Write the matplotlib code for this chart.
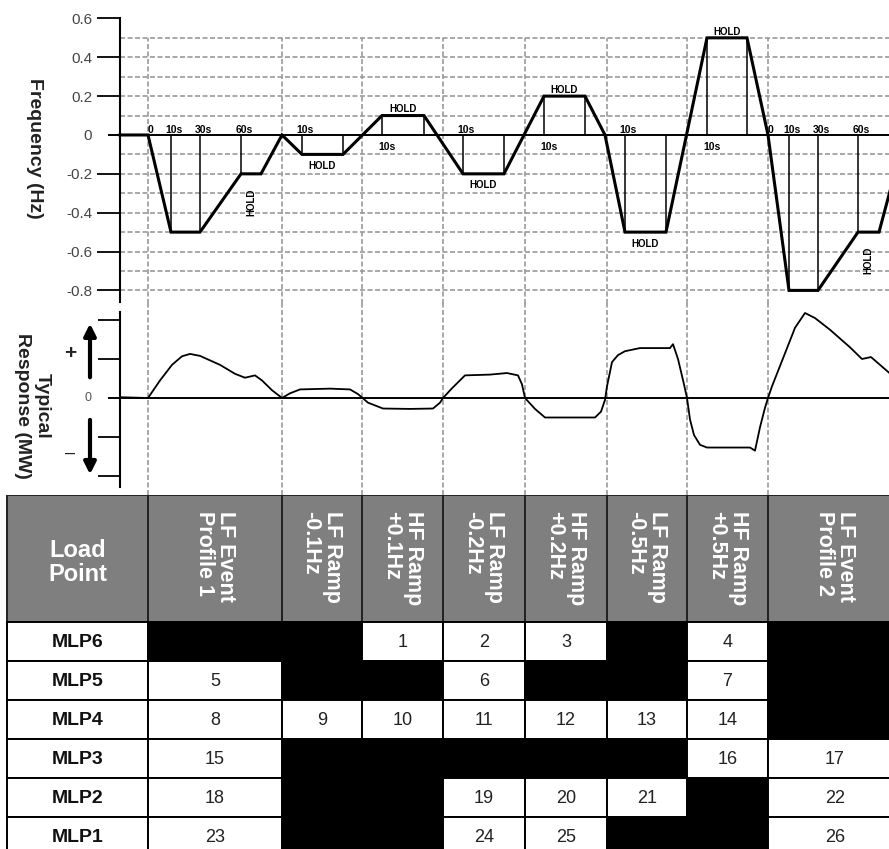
import numpy as np
import matplotlib.pyplot as plt
from matplotlib.patches import Rectangle

plt.rcParams['font.family'] = ['Liberation Sans', 'DejaVu Sans']

# position along the test sequence (shared by the two charts and the table)
col_edges = [148, 282, 362, 443, 525, 607, 687, 768, 902]
col_names = ["LF Event\nProfile 1", "LF Ramp\n-0.1Hz", "HF Ramp\n+0.1Hz", "LF Ramp\n-0.2Hz",
             "HF Ramp\n+0.2Hz", "LF Ramp\n-0.5Hz", "HF Ramp\n+0.5Hz", "LF Event\nProfile 2"]
row_names = ["MLP6", "MLP5", "MLP4", "MLP3", "MLP2", "MLP1"]
# test number for each load point / event, 0 = not tested (black cell)
test_ids = [
    [0, 0, 1, 2, 3, 0, 4, 0],
    [5, 0, 0, 6, 0, 0, 7, 0],
    [8, 9, 10, 11, 12, 13, 14, 0],
    [15, 0, 0, 0, 0, 0, 16, 17],
    [18, 0, 0, 19, 20, 21, 0, 22],
    [23, 0, 0, 24, 25, 0, 0, 26],
]

# frequency deviation profile (Hz)
freq_t = [120, 148, 171, 200, 241, 261, 282, 302, 343, 382, 424, 463, 504, 544, 585,
          605, 625, 666, 707, 747, 768, 789, 818, 858, 879, 905]
freq_hz = [0, 0, -0.5, -0.5, -0.2, -0.2, 0, -0.1, -0.1, 0.1, 0.1, -0.2, -0.2, 0.2, 0.2,
           0, -0.5, -0.5, 0.5, 0.5, 0, -0.8, -0.8, -0.5, -0.5, 0]
freq_ticks = [0.6, 0.4, 0.2, 0, -0.2, -0.4, -0.6, -0.8]
freq_labels = ["0.6", "0.4", "0.2", "0", "-0.2", "-0.4", "-0.6", "-0.8"]

# time marks and their labels
mark_t = [171, 200, 241, 302, 343, 382, 424, 463, 504, 544, 585, 625, 666, 707, 747, 789, 818, 858]
top_lbl_t = [148, 171, 200, 241, 302, 463, 625, 768, 789, 818, 858]
top_lbl = ["0", "10s", "30s", "60s", "10s", "10s", "10s", "0", "10s", "30s", "60s"]
low_lbl_t = [382, 544, 707]
low_lbl = ["10s", "10s", "10s"]
hold_from = [241, 302, 382, 463, 544, 625, 707, 858]
hold_to = [261, 343, 424, 504, 585, 666, 747, 879]
hold_vertical = [True, False, False, False, False, False, False, True]

# typical response (MW, arbitrary units)
resp_t = [120, 148, 160, 172, 182, 190, 200, 220, 235, 245, 255, 262, 272, 282, 290, 300,
          330, 350, 358, 368, 383, 410, 433, 440, 443, 452, 465, 490, 507, 518, 522, 525,
          535, 545, 570, 595, 601, 605, 607, 612, 618, 625, 640, 670, 673, 678, 684, 687,
          690, 694, 700, 707, 730, 750, 755, 760, 765, 768, 772, 782, 795, 805, 815, 830,
          850, 862, 871, 880, 889]
resp_mw = [0.02, 0.0, 0.45, 0.85, 1.07, 1.13, 1.08, 0.85, 0.62, 0.52, 0.58, 0.45, 0.2, 0.0, 0.12, 0.22,
           0.24, 0.22, 0.1, -0.12, -0.27, -0.28, -0.27, -0.12, 0.0, 0.25, 0.58, 0.6, 0.64, 0.58, 0.35, 0.0,
           -0.28, -0.5, -0.5, -0.5, -0.35, -0.05, 0.3, 0.92, 1.1, 1.2, 1.28, 1.28, 1.38, 1.0, 0.35, 0.0,
           -0.55, -0.95, -1.2, -1.27, -1.27, -1.27, -1.35, -0.75, -0.25, 0.0, 0.3, 0.95, 1.8, 2.18, 2.05, 1.75,
           1.3, 1.0, 1.05, 0.85, 0.65]

W, H = 889, 849
fig = plt.figure(figsize=(W / 100, H / 100), dpi=100)


def px_axes(top, bottom):
    ax = fig.add_axes([0, 1 - bottom / H, 1, (bottom - top) / H])
    ax.set_xlim(0, W)
    ax.patch.set_alpha(0)
    for s in ax.spines.values():
        s.set_visible(False)
    ax.tick_params(bottom=False, labelbottom=False)
    return ax


grid_kw = dict(color='#9a9a9a', lw=1.2, linestyles=(0, (3, 1.5)))

# ---- frequency chart
ax1 = px_axes(8.7, 304.0)
ax1.set_ylim(-0.87, 0.65)
hgrid = [v for v in np.round(np.arange(-0.8, 0.51, 0.1), 1) if v != 0]
ax1.hlines(hgrid, 120, W, zorder=1, **grid_kw)
ax1.vlines(col_edges[:-1], -0.87, 0.5, zorder=1, **grid_kw)
ax1.hlines(0, 108, W, color='black', lw=1.4, zorder=2)
mark_f = np.interp(mark_t, freq_t, freq_hz)
ax1.vlines(mark_t, 0, mark_f, color='black', lw=1.1, zorder=2)
ax1.plot(freq_t, freq_hz, color='black', lw=2.2, zorder=3, solid_joinstyle='miter')

for t, s in zip(top_lbl_t, top_lbl):
    ax1.text(t + 3, 0.028, s, ha='center', va='center', fontsize=7.5, fontweight='bold')
for t, s in zip(low_lbl_t, low_lbl):
    ax1.text(t + 5, -0.062, s, ha='center', va='center', fontsize=7.5, fontweight='bold')
for a, b, vert in zip(hold_from, hold_to, hold_vertical):
    lvl = np.interp(a, freq_t, freq_hz)
    mid = (a + b) / 2
    if vert:
        ax1.text(mid, lvl - 0.145, "HOLD", rotation=90, ha='center', va='center',
                 fontsize=7, fontweight='bold')
    else:
        y = lvl + 0.032 if lvl > 0 else lvl - 0.06
        ax1.text(mid, y, "HOLD", ha='center', va='center', fontsize=7, fontweight='bold')

ax1.spines['left'].set_visible(True)
ax1.spines['left'].set_position(('data', 120))
ax1.spines['left'].set_bounds(-0.86, 0.6)
ax1.spines['left'].set_linewidth(1.5)
ax1.set_yticks(freq_ticks, freq_labels)
ax1.tick_params(axis='y', length=16.5, width=1.3, pad=3.5, labelsize=11, labelcolor='#444444')
ax1.yaxis.get_major_ticks()[freq_ticks.index(0)].tick1line.set_visible(False)
ax1.text(34, -0.067, "Frequency (Hz)", rotation=-90, ha='center', va='center',
         fontsize=14, fontweight='bold', color='#222222')

# ---- typical response chart
ax2 = px_axes(304.0, 495)
ax2.set_ylim(-97 / 39, 94 / 39)
ax2.vlines(col_edges[:-1], -97 / 39, 94 / 39, zorder=1, **grid_kw)
ax2.hlines(0, 108, W, color='black', lw=1.4, zorder=2)
ax2.plot(resp_t, resp_mw, color='black', lw=1.3, zorder=3)
ax2.spines['left'].set_visible(True)
ax2.spines['left'].set_position(('data', 120))
ax2.spines['left'].set_bounds(-2.28, 2.2)
ax2.spines['left'].set_linewidth(1.5)
resp_ticks = [2, 1, 0, -1, -2]
ax2.set_yticks(resp_ticks, [""] * len(resp_ticks))
ax2.tick_params(axis='y', length=16, width=1.3)
ax2.yaxis.get_major_ticks()[resp_ticks.index(0)].tick1line.set_visible(False)
arrow_kw = dict(arrowstyle='-|>,head_width=0.35,head_length=0.7', color='black', lw=3)
ax2.annotate("", xy=(90, 1.98), xytext=(90, 0.46), arrowprops=arrow_kw, annotation_clip=False)
ax2.annotate("", xy=(90, -2.03), xytext=(90, -0.49), arrowprops=arrow_kw, annotation_clip=False)
ax2.text(70, 1.15, "+", ha='center', va='center', fontsize=15, fontweight='bold', color='#222222')
ax2.text(70, -1.41, "\u2013", ha='center', va='center', fontsize=13, color='#222222')
ax2.text(88, 0, "0", ha='center', va='center', fontsize=9, color='#555555')
ax2.text(32, -0.2, "Typical\nResponse (MW)", rotation=-90, ha='center', va='center',
         multialignment='center', fontsize=14, fontweight='bold', color='#222222')

# ---- test matrix
axt = px_axes(495, 849)
axt.axis('off')
head_h = 127 / 39
axt.set_ylim(354 / 39, 0)
left = 7
gray = '#7f7f7f'
axt.add_patch(Rectangle((left, 0), col_edges[0] - left, head_h, fc=gray, ec='#222222', lw=1.4))
axt.text((left + col_edges[0]) / 2, 1.72, "Load\nPoint", ha='center', va='center', color='white',
         fontsize=17, fontweight='bold', linespacing=1.05)
for j, name in enumerate(col_names):
    x0, x1 = col_edges[j], col_edges[j + 1]
    axt.add_patch(Rectangle((x0, 0), x1 - x0, head_h, fc=gray, ec='#222222', lw=1.4))
    axt.text((x0 + x1) / 2, 0.42, name, rotation=-90, ha='center', va='top', color='white',
             fontsize=15.5, fontweight='bold', multialignment='left', linespacing=1.05)

for i, row in enumerate(row_names):
    y0 = head_h + i
    axt.add_patch(Rectangle((left, y0), col_edges[0] - left, 1, fc='white', ec='black', lw=1.4))
    axt.text((left + col_edges[0]) / 2, y0 + 0.52, row, ha='center', va='center',
             fontsize=14, fontweight='bold', color='#111111')
    for j, n in enumerate(test_ids[i]):
        x0, x1 = col_edges[j], col_edges[j + 1]
        if n:
            axt.add_patch(Rectangle((x0, y0), x1 - x0, 1, fc='white', ec='black', lw=1.4))
            axt.text((x0 + x1) / 2, y0 + 0.52, str(n), ha='center', va='center',
                     fontsize=13, color='#222222')
        else:
            axt.add_patch(Rectangle((x0, y0), x1 - x0, 1, fc='black', ec='black', lw=1.4))

fig.savefig("out.png", dpi=100)
